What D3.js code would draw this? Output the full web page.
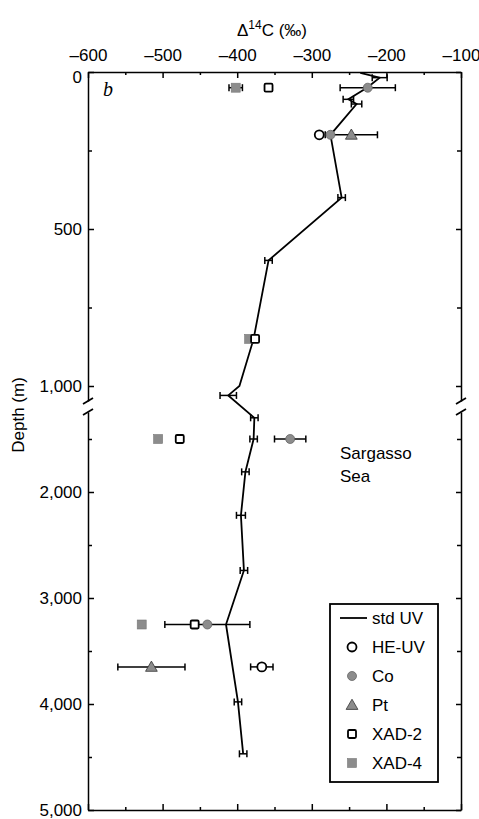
<!DOCTYPE html>
<html><head><meta charset="utf-8">
<script src="https://cdn.jsdelivr.net/npm/d3@7"></script>
<style>body{margin:0;background:#fff} svg text{font-family:"Liberation Sans",Arial,Helvetica,sans-serif;fill:#000}</style>
</head><body><svg id="c" width="479" height="819"></svg>
<script>
// ---- data ----
const xMajor = [-600,-500,-400,-300,-200,-100];
const xMajorLabels = ["\u2013600","\u2013500","\u2013400","\u2013300","\u2013200","\u2013100"];
const xMinor = [-550,-450,-350,-250,-150];
const yMajor = [0,500,1000,2000,3000,4000,5000];
const yMajorLabels = ["0","500","1,000","2,000","3,000","4,000","5,000"];
const yMinor = [250,750,1500,2500,3500,4500];

const stdDepth = [3,18,50,87,102,200,400,600,850,1000,1030,1300,1500,1810,2220,2740,3250,3980,4470];
const stdVal   = [-235,-209,-226,-251,-240,-275,-260,-358,-378,-397,-412,-377,-378,-389,-395,-391,-415,-399,-392];
const stdErr   = [0,10,0,7,7,0,5,5,0,0,11,5,5,5,6,5,0,5,5];

const heDepth = [200,3650];
const heVal   = [-290,-367];
const heErr   = [0,15];

const coDepth = [50,200,1500,3250];
const coVal   = [-225,-275,-329,-440];
const coErr   = [37,0,21,57];

const ptDepth = [200,3650];
const ptVal   = [-247,-515];
const ptErr   = [35,45];

const xad2Depth = [50,850,1500,3250];
const xad2Val   = [-358,-376,-477,-457];

const xad4Depth = [50,850,1500,3250];
const xad4Val   = [-402,-384,-506,-528];
const xad4Err   = [9,0,0,0];

const legendNames = ["std UV","HE-UV","Co","Pt","XAD-2","XAD-4"];

// ---- layout ----
const svg = d3.select("#c");
const L = 88, R = 461, T = 72, B = 810;
const grey = "#8c8c8c";
const x = d3.scaleLinear().domain([-600,-100]).range([L,R]);
const yU = d3.scaleLinear().domain([0,1000]).range([T,386]);
const yL = d3.scaleLinear().domain([1000,5000]).range([386,B]);
const upperMax = 1048, lowerMin = 1245;
const y = d => d <= 1100 ? yU(d) : yL(d);
const yUa = d3.scaleLinear().domain([0,upperMax]).range([yU(0),yU(upperMax)]);
const yLa = d3.scaleLinear().domain([lowerMin,5000]).range([yL(lowerMin),yL(5000)]);

svg.append("rect").attr("width",479).attr("height",819).attr("fill","#fff");

function styleAxis(g, fs){
  g.selectAll("path,line").attr("stroke","#000").attr("stroke-width",1.5);
  g.selectAll("text").attr("font-size",fs).attr("font-family",null).attr("fill","#000");
  g.attr("font-family",null);
}
const fmtX = d => xMajorLabels[xMajor.indexOf(d)];
const fmtY = d => yMajorLabels[yMajor.indexOf(d)];

// top axis
let g = svg.append("g").attr("transform",`translate(0,${T})`)
  .call(d3.axisTop(x).tickValues(xMajor).tickFormat(fmtX).tickSizeInner(-6).tickSizeOuter(0).tickPadding(11));
styleAxis(g,17);
g = svg.append("g").attr("transform",`translate(0,${T})`)
  .call(d3.axisTop(x).tickValues(xMinor).tickFormat("").tickSizeInner(-3).tickSizeOuter(0));
g.select(".domain").remove(); styleAxis(g,17);
// bottom axis
g = svg.append("g").attr("transform",`translate(0,${B})`)
  .call(d3.axisBottom(x).tickValues(xMajor).tickFormat("").tickSizeInner(-6).tickSizeOuter(0));
styleAxis(g,17);
g = svg.append("g").attr("transform",`translate(0,${B})`)
  .call(d3.axisBottom(x).tickValues(xMinor).tickFormat("").tickSizeInner(-3).tickSizeOuter(0));
g.select(".domain").remove(); styleAxis(g,17);

// left / right axes in two segments
[[yUa, d=>d<=upperMax],[yLa, d=>d>=lowerMin]].forEach(([sc,f])=>{
  let a = svg.append("g").attr("transform",`translate(${L},0)`)
    .call(d3.axisLeft(sc).tickValues(yMajor.filter(f)).tickFormat(fmtY).tickSizeInner(-6).tickSizeOuter(0).tickPadding(6));
  styleAxis(a,17);
  a.selectAll(".tick text").filter(d=>d===0).attr("dy","0.62em");
  a = svg.append("g").attr("transform",`translate(${L},0)`)
    .call(d3.axisLeft(sc).tickValues(yMinor.filter(f)).tickFormat("").tickSizeInner(-4).tickSizeOuter(0));
  a.select(".domain").remove(); styleAxis(a,17);
  a = svg.append("g").attr("transform",`translate(${R},0)`)
    .call(d3.axisRight(sc).tickValues(yMajor.filter(f)).tickFormat("").tickSizeInner(-5).tickSizeOuter(0));
  styleAxis(a,17);
  a = svg.append("g").attr("transform",`translate(${R},0)`)
    .call(d3.axisRight(sc).tickValues(yMinor.filter(f)).tickFormat("").tickSizeInner(-4).tickSizeOuter(0));
  a.select(".domain").remove(); styleAxis(a,17);
});

// break marks
[L,R].forEach(xx=>{
  [yU(upperMax), yL(lowerMin)].forEach(yy=>{
    svg.append("line").attr("x1",xx-5).attr("y1",yy+3).attr("x2",xx+5).attr("y2",yy-3)
      .attr("stroke","#000").attr("stroke-width",1.8);
  });
});

// titles
const t = svg.append("text").attr("x",272).attr("y",36).attr("text-anchor","middle").attr("font-size",17);
t.append("tspan").text("\u0394");
t.append("tspan").attr("font-size",12).attr("dy",-7).text("14");
t.append("tspan").attr("dy",7).text("C (\u2030)");
svg.append("text").attr("transform",`translate(24,415) rotate(-90)`).attr("text-anchor","middle")
  .attr("font-size",17).text("Depth (m)");
svg.append("text").attr("x",103).attr("y",96).attr("font-size",20).attr("font-style","italic")
  .style("font-family","'Liberation Serif',serif").text("b");
svg.append("text").attr("x",340).attr("y",459).attr("font-size",17).text("Sargasso");
svg.append("text").attr("x",340).attr("y",482).attr("font-size",17).text("Sea");

// std UV line
const stdPts = stdDepth.map((d,i)=>({d, v:stdVal[i], e:stdErr[i]}));
svg.append("path").datum(stdPts)
  .attr("d", d3.line().x(p=>x(p.v)).y(p=>y(p.d)))
  .attr("fill","none").attr("stroke","#000").attr("stroke-width",1.8);

// error bars
function errBars(depths, vals, errs){
  depths.forEach((d,i)=>{
    const e = errs[i]; if(!e) return;
    const yy = y(d), x0 = x(vals[i]-e), x1 = x(vals[i]+e);
    svg.append("line").attr("x1",x0).attr("x2",x1).attr("y1",yy).attr("y2",yy).attr("stroke","#000").attr("stroke-width",1.5);
    [x0,x1].forEach(xx=>svg.append("line").attr("x1",xx).attr("x2",xx).attr("y1",yy-3.5).attr("y2",yy+3.5)
      .attr("stroke","#000").attr("stroke-width",1.5));
  });
}
errBars(stdDepth, stdVal, stdErr);
errBars(coDepth, coVal, coErr);
errBars(ptDepth, ptVal, ptErr);
errBars(heDepth, heVal, heErr);
errBars(xad4Depth, xad4Val, xad4Err);

// markers
const sym = {
  "HE-UV": (g,cx,cy)=>g.append("circle").attr("cx",cx).attr("cy",cy).attr("r",4.5).attr("fill","#fff").attr("stroke","#000").attr("stroke-width",1.8),
  "Co": (g,cx,cy)=>g.append("circle").attr("cx",cx).attr("cy",cy).attr("r",4.5).attr("fill",grey).attr("stroke","#666").attr("stroke-width",0.8),
  "Pt": (g,cx,cy)=>g.append("path").attr("d",d3.symbol(d3.symbolTriangle,60)()).attr("transform",`translate(${cx},${cy+1})`).attr("fill",grey).attr("stroke","#333").attr("stroke-width",0.8),
  "XAD-2": (g,cx,cy)=>g.append("rect").attr("x",cx-4).attr("y",cy-4).attr("width",8).attr("height",8).attr("rx",1.2).attr("fill","#fff").attr("stroke","#000").attr("stroke-width",1.8),
  "XAD-4": (g,cx,cy)=>g.append("rect").attr("x",cx-4.5).attr("y",cy-4.5).attr("width",9).attr("height",9).attr("fill",grey).attr("stroke","#777").attr("stroke-width",0.6)
};
xad4Depth.forEach((d,i)=>sym["XAD-4"](svg,x(xad4Val[i]),y(d)));
xad2Depth.forEach((d,i)=>sym["XAD-2"](svg,x(xad2Val[i]),y(d)));
heDepth.forEach((d,i)=>sym["HE-UV"](svg,x(heVal[i]),y(d)));
ptDepth.forEach((d,i)=>sym["Pt"](svg,x(ptVal[i]),y(d)));
coDepth.forEach((d,i)=>sym["Co"](svg,x(coVal[i]),y(d)));

// legend
const lg = svg.append("g");
lg.append("rect").attr("x",330).attr("y",604).attr("width",108).attr("height",178)
  .attr("fill","#fff").attr("stroke","#000").attr("stroke-width",1.8);
legendNames.forEach((n,i)=>{
  const cy = 618 + i*29;
  if(n==="std UV"){
    lg.append("line").attr("x1",340).attr("x2",367).attr("y1",cy).attr("y2",cy).attr("stroke","#000").attr("stroke-width",1.8);
  } else sym[n](lg,352,cy);
  lg.append("text").attr("x",372).attr("y",cy).attr("dy","0.35em").attr("font-size",17).text(n);
});
</script></body></html>
